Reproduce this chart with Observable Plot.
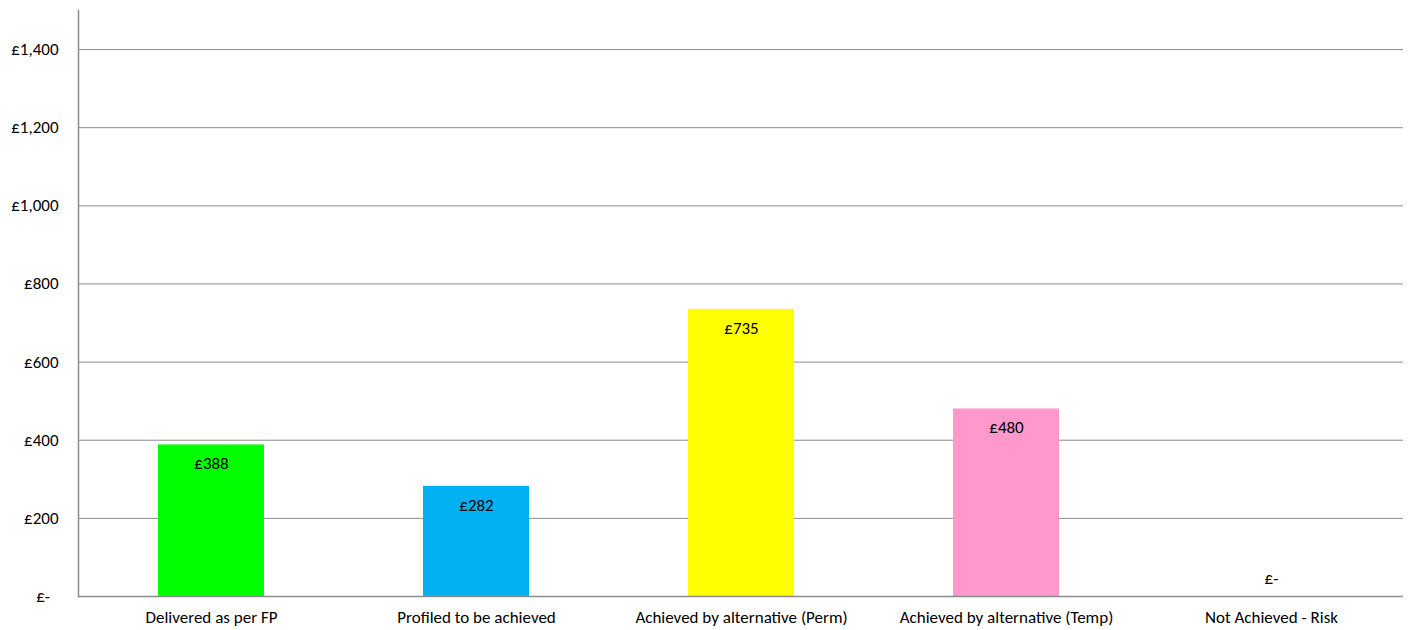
<!DOCTYPE html>
<html>
<head>
<meta charset="utf-8">
<script src="https://cdn.jsdelivr.net/npm/d3@7"></script>
<script src="https://cdn.jsdelivr.net/npm/@observablehq/plot@0.6"></script>
<style>
  html, body { margin: 0; padding: 0; background: #fff; }
  svg { display: block; }
</style>
</head>
<body>
<div id="chart"></div>
<script>
const categories = ["Delivered as per FP", "Profiled to be achieved", "Achieved by alternative (Perm)", "Achieved by alternative (Temp)", "Not Achieved - Risk"];
const values = [388, 282, 735, 480, 0];
const colors = ["#00FF00", "#00B0F0", "#FFFF00", "#FF99CC", "#C00000"];
const yTicks = [0, 200, 400, 600, 800, 1000, 1200, 1400];

const data = categories.map((c, i) => ({category: c, value: values[i], color: colors[i]}));
const money = v => v === 0 ? "£-" : "£" + d3.format(",")(v);
const FONT = "Carlito, Calibri, Lato, 'Open Sans', sans-serif";

const chart = Plot.plot({
  width: 1411,
  height: 630,
  marginLeft: 78,
  marginRight: 8,
  marginTop: 10,
  marginBottom: 34,
  style: {fontFamily: FONT, fontSize: "17px", color: "#000", background: "#fff"},
  x: {domain: categories, paddingInner: 0.6, paddingOuter: 0.3, label: null, tickSize: 0, tickPadding: 14},
  y: {domain: [0, 1500], label: null, ticks: yTicks, tickSize: 0, tickPadding: 20, tickFormat: v => v === 0 ? "£-\u2002" : money(v)},
  marks: [
    Plot.ruleY(yTicks.filter(d => d > 0), {stroke: "#8c8c8c", strokeWidth: 1, strokeOpacity: 1}),
    Plot.barY(data, {x: "category", y: "value", fill: "color"}),
    Plot.ruleY([0], {stroke: "#8c8c8c", strokeWidth: 1.5}),
    Plot.frame({anchor: "left", stroke: "#8c8c8c", strokeWidth: 1.5}),
    Plot.text(data.filter(d => d.value > 0), {x: "category", y: "value", text: d => money(d.value), dy: 19, fill: "#000", fontSize: 17}),
    Plot.text(data.filter(d => d.value === 0), {x: "category", y: "value", text: d => money(d.value), dy: -18, fill: "#000", fontSize: 17})
  ]
});
document.getElementById("chart").appendChild(chart);
</script>
</body>
</html>
